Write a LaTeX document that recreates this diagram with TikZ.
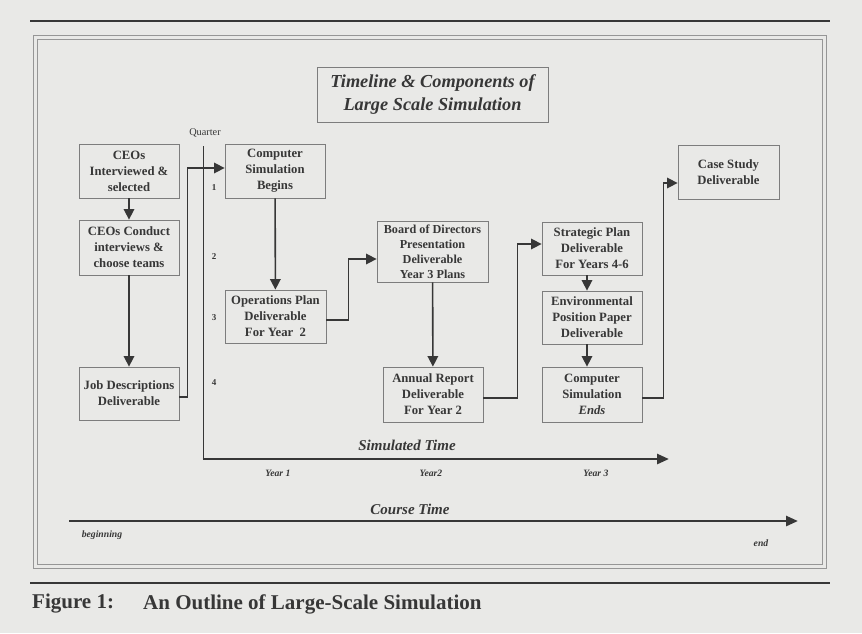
\documentclass[tikz,border=0pt]{standalone}
\usepackage{fontspec}
\setmainfont{Liberation Serif}
\usetikzlibrary{arrows.meta}
\definecolor{bgc}{RGB}{233,233,231}
\definecolor{inkc}{RGB}{55,55,55}
\definecolor{boxc}{RGB}{125,125,125}
\definecolor{framec}{RGB}{150,150,150}
\tikzset{
  stagebox/.style={draw=boxc, line width=0.8pt, inner sep=0pt, align=center, text=inkc,
    font=\bfseries\fontsize{12.7}{16}\selectfont, minimum width=100pt, minimum height=54pt},
  flow/.style={draw=inkc, line width=1.6pt, -{Triangle[length=10.5pt,width=10.5pt]}},
  axisarrow/.style={draw=inkc, line width=2.6pt, -{Triangle[length=12pt,width=10pt]}},
  smalllab/.style={text=inkc, font=\bfseries\itshape\fontsize{9.7}{11}\selectfont, inner sep=0pt},
  qlab/.style={text=inkc, font=\bfseries\fontsize{9}{10}\selectfont, inner sep=0pt},
  axislab/.style={text=inkc, font=\bfseries\itshape\fontsize{15}{17}\selectfont, inner sep=0pt},
  caplab/.style={text=inkc, font=\bfseries\fontsize{21}{24}\selectfont, inner sep=0pt, anchor=west}
}
\begin{document}
\begin{tikzpicture}[x=1pt,y=-1pt]
\fill[bgc] (0,0) rectangle (862,633);
\useasboundingbox (0,0) rectangle (862,633);
% rules and frame
\draw[inkc, line width=2.5pt] (30,21) -- (830,21);
\draw[inkc, line width=2.5pt] (30,583) -- (830,583);
\draw[framec, line width=0.8pt] (33,35) rectangle (826,568);
\draw[framec, line width=0.8pt] (37,39) rectangle (822,564);
% title
\node[draw=boxc, line width=0.8pt, minimum width=231pt, minimum height=55pt, inner sep=0pt,
  align=center, text=inkc, font=\bfseries\itshape\fontsize{18.3}{23}\selectfont]
  (title) at (432.5,94.5) {Timeline \& Components of\\Large Scale Simulation};
% stages
\node[stagebox] (ceo1) at (129,171) {CEOs\\Interviewed \&\\selected};
\node[stagebox, minimum height=55pt] (ceo2) at (129,247.5) {CEOs Conduct\\interviews \&\\choose teams};
\node[stagebox, minimum height=53pt] (job) at (129,393.5) {Job Descriptions\\Deliverable};
\node[stagebox] (csb) at (275,171) {Computer\\Simulation\\Begins};
\node[stagebox, minimum width=101pt, minimum height=53pt] (ops) at (275.5,316.5) {Operations Plan\\Deliverable\\For Year\ \ 2};
\node[stagebox, minimum width=111pt, minimum height=61pt, font=\bfseries\fontsize{12.2}{15}\selectfont] (board) at (432.5,251.5) {Board of Directors\\Presentation\\Deliverable\\Year 3 Plans};
\node[stagebox, minimum height=55pt] (annual) at (433,394.5) {Annual Report\\Deliverable\\For Year 2};
\node[stagebox, minimum height=53pt] (strat) at (592,248.5) {Strategic Plan\\Deliverable\\For Years 4-6};
\node[stagebox, minimum height=53pt] (env) at (592,317.5) {Environmental\\Position Paper\\Deliverable};
\node[stagebox, minimum height=55pt] (ends) at (592,394.5) {Computer\\Simulation\\\textit{Ends}};
\node[stagebox, minimum width=101pt] (case) at (728.5,172) {Case Study\\Deliverable};
% connectors
\draw[flow] (ceo1) -- (ceo2);
\draw[flow] (ceo2) -- (job);
\draw[flow] ([yshift=-3.5pt]job.east) -- ++(8,0) |- ([yshift=3pt]csb.west);
\draw[flow] (csb) -- (ops);
\draw[flow] ([yshift=-3.5pt]ops.east) -- ++(22,0) |- ([yshift=-7.5pt]board.west);
\draw[flow] (board) -- (annual);
\draw[flow] ([yshift=-3.5pt]annual.east) -- ++(34,0) |- ([yshift=4.5pt]strat.west);
\draw[flow] ([xshift=-5pt]strat.south) -- ([xshift=-5pt]env.north);
\draw[flow] ([xshift=-5pt]env.south) -- ([xshift=-5pt]ends.north);
\draw[flow] ([yshift=-3.5pt]ends.east) -- ++(21,0) |- ([yshift=-11pt]case.west);
% quarter axis and simulated time
\node[text=inkc, font=\fontsize{10.3}{12}\selectfont, inner sep=0pt] (quarter) at (205,133) {Quarter};
\coordinate (qtop) at (203,146);
\coordinate (qcorner) at (203,459);
\coordinate (simend) at (669,459);
\draw[inkc, line width=1pt] (qtop) -- (qcorner);
\draw[axisarrow] ([xshift=-0.5pt]qcorner) -- (simend);
\node[qlab] (q1) at (214,188) {1};
\node[qlab] (q2) at (214,257) {2};
\node[qlab] (q3) at (214,318) {3};
\node[qlab] (q4) at (214,383) {4};
\node[axislab] (simt) at (407,445) {Simulated Time};
\node[smalllab] (y1) at (278,473) {Year 1};
\node[smalllab] (y2) at (431,473) {Year2};
\node[smalllab] (y3) at (596,473) {Year 3};
% course time
\coordinate (cstart) at (69,521);
\coordinate (cend) at (798,521);
\draw[axisarrow] (cstart) -- (cend);
\node[axislab] (courset) at (410,509) {Course Time};
\node[smalllab] (beg) at (102,535) {beginning};
\node[smalllab] (endl) at (761,543) {end};
% caption
\node[caplab] (fig) at (32,604) {Figure 1:};
\node[caplab] (capt) at (143,604) {An Outline of Large-Scale Simulation};
\end{tikzpicture}
\end{document}
